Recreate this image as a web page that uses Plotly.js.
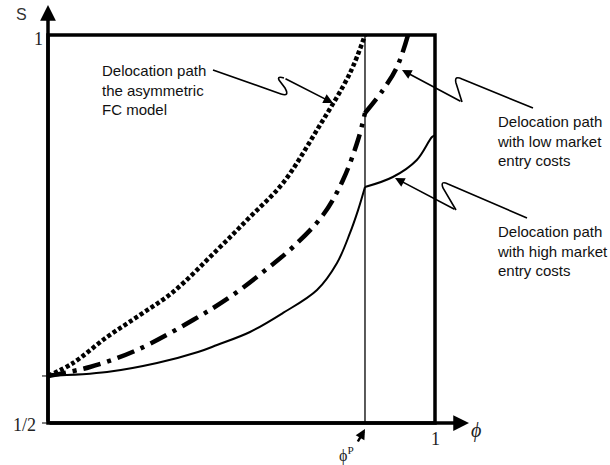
<!DOCTYPE html>
<html>
<head>
<meta charset="utf-8">
<script src="https://cdn.plot.ly/plotly-3.0.1.min.js"></script>
<style>html,body{margin:0;padding:0;background:#fff;}#chart{width:610px;height:465px;}</style>
</head>
<body>
<div id="chart"></div>
<script>
// ---- data (phi on x in [0,1], S on y in [1/2,1]) ----
const phiP = 0.8191;
const dottedX = [0, 0.0646, 0.1525, 0.2377, 0.3230, 0.4367, 0.5220, 0.6072, 0.6951, 0.7804, 0.8191];
const dottedY = [0.5606, 0.5773, 0.6108, 0.6392, 0.6688, 0.7229, 0.7655, 0.8093, 0.8776, 0.9510, 1.0];
const lowCostX1 = [0, 0.1085, 0.2300, 0.3747, 0.4703, 0.5556, 0.6331, 0.7106, 0.7623, 0.8010, 0.8191];
const lowCostY1 = [0.5606, 0.5722, 0.5941, 0.6327, 0.6624, 0.6946, 0.7268, 0.7680, 0.8131, 0.8647, 0.8995];
const lowCostX2 = [0.8191, 0.8656, 0.9018, 0.9302];
const lowCostY2 = [0.8995, 0.9291, 0.9588, 1.0];
const highCostX1 = [0, 0.1525, 0.2817, 0.3876, 0.4367, 0.5220, 0.6072, 0.6951, 0.7468, 0.7804, 0.8010, 0.8191];
const highCostY1 = [0.5606, 0.5657, 0.5773, 0.5915, 0.6005, 0.6173, 0.6418, 0.6714, 0.7062, 0.7449, 0.7740, 0.8041];
const highCostX2 = [0.8191, 0.8910, 0.9530, 0.9922, 1.0];
const highCostY2 = [0.8041, 0.8170, 0.8390, 0.8686, 0.8710];
const yTickLabels = ['1/2', '1'];
const xTickLabels = ['ϕ<sup>P</sup>', '1'];
const labelAsym = 'Delocation path<br>the asymmetric<br>FC model';
const labelLow = 'Delocation path<br>with low market<br>entry costs';
const labelHigh = 'Delocation path<br>with high market<br>entry costs';

// ---- layout helpers (pixel -> data) ----
const X = p => (p - 48) / 387;
const Y = p => 0.5 + (423 - p) / 776;

const traces = [
  {x: dottedX, y: dottedY, mode: 'lines', line: {color: '#000', width: 4.5, dash: '4px,2.5px', shape: 'spline', smoothing: 1}},
  {x: lowCostX1, y: lowCostY1, mode: 'lines', line: {color: '#000', width: 4.5, dash: '18px,7px,4px,7px', shape: 'spline', smoothing: 1}},
  {x: lowCostX2, y: lowCostY2, mode: 'lines', line: {color: '#000', width: 4.5, dash: '18px,7px,4px,7px', shape: 'spline', smoothing: 1}},
  {x: highCostX1, y: highCostY1, mode: 'lines', line: {color: '#000', width: 2, shape: 'spline', smoothing: 1}},
  {x: highCostX2, y: highCostY2, mode: 'lines', line: {color: '#000', width: 2, shape: 'spline', smoothing: 1}}
];

const P = (x, y) => X(x) + ',' + Y(y);
const shapes = [
  {type: 'rect', xref: 'x', yref: 'y', x0: 0, x1: 1, y0: 0.5, y1: 1, line: {color: '#000', width: 3.5}},
  {type: 'line', xref: 'x', yref: 'y', x0: phiP, x1: phiP, y0: 0.5, y1: 1, line: {color: '#000', width: 1.3}},
  {type: 'line', xref: 'x', yref: 'y', x0: X(42), x1: 0, y0: 0.5, y1: 0.5, line: {color: '#000', width: 1}},
  {type: 'line', xref: 'x', yref: 'y', x0: X(42), x1: 0, y0: dottedY[0], y1: dottedY[0], line: {color: '#000', width: 1}},
  {type: 'path', xref: 'x', yref: 'y', line: {color: '#000', width: 1.6},
   path: 'M' + P(213,70) + ' L' + P(281,94) + ' Q' + P(290,97) + ' ' + P(285,88) + ' L' + P(279,80) + ' Q' + P(277,76) + ' ' + P(284,78)},
  {type: 'path', xref: 'x', yref: 'y', line: {color: '#000', width: 1.6},
   path: 'M' + P(533,108) + ' L' + P(462,79) + ' Q' + P(454,75) + ' ' + P(456,83) + ' L' + P(462,102)},
  {type: 'path', xref: 'x', yref: 'y', line: {color: '#000', width: 1.6},
   path: 'M' + P(527,218) + ' L' + P(448,184) + ' Q' + P(440,180) + ' ' + P(443,188) + ' L' + P(456,210)}
];

const serif = 'Liberation Serif, Times New Roman, serif';
const sans = 'Liberation Sans, Arial, sans-serif';
const arrow = (tx, ty, fx, fy, w, s) => ({
  x: X(tx), y: Y(ty), xref: 'x', yref: 'y', ax: fx - tx, ay: fy - ty, text: '',
  showarrow: true, arrowhead: 2, arrowwidth: w, arrowsize: s, arrowcolor: '#000'
});
const annotations = [
  // axes arrows
  {x: 0, y: Y(5), xref: 'x', yref: 'y', axref: 'x', ayref: 'y', ax: 0, ay: 0.5, text: '', showarrow: true, arrowhead: 2, arrowwidth: 3.5, arrowsize: 0.9, arrowcolor: '#000'},
  {x: X(469), y: 0.5, xref: 'x', yref: 'y', axref: 'x', ayref: 'y', ax: 0, ay: 0.5, text: '', showarrow: true, arrowhead: 2, arrowwidth: 3.5, arrowsize: 0.9, arrowcolor: '#000'},
  // axis labels
  {x: X(21), y: Y(14), xref: 'x', yref: 'y', text: 'S', showarrow: false, font: {family: sans, size: 16, color: '#333'}},
  {x: X(476), y: Y(430), xref: 'x', yref: 'y', text: '<i>ϕ</i>', showarrow: false, font: {family: serif, size: 20, color: '#222'}},
  {x: X(38), y: Y(39), xref: 'x', yref: 'y', text: yTickLabels[1], showarrow: false, font: {family: serif, size: 18, color: '#222'}},
  {x: X(24), y: Y(425), xref: 'x', yref: 'y', text: yTickLabels[0], showarrow: false, font: {family: serif, size: 18, color: '#222'}},
  {x: 1, y: Y(439), xref: 'x', yref: 'y', text: xTickLabels[1], showarrow: false, font: {family: serif, size: 18, color: '#222'}},
  {x: X(346), y: Y(454), xref: 'x', yref: 'y', text: xTickLabels[0], showarrow: false, font: {family: serif, size: 16, color: '#222'}},
  arrow(365, 429, 357, 443, 2.5, 0.8),
  // callouts
  {x: X(100), y: Y(90), xref: 'x', yref: 'y', xanchor: 'left', yanchor: 'middle', align: 'left', text: labelAsym, showarrow: false, font: {family: sans, size: 15, color: '#111'}},
  {x: X(495), y: Y(141), xref: 'x', yref: 'y', xanchor: 'left', yanchor: 'middle', align: 'left', text: labelLow, showarrow: false, font: {family: sans, size: 15, color: '#111'}},
  {x: X(495), y: Y(251), xref: 'x', yref: 'y', xanchor: 'left', yanchor: 'middle', align: 'left', text: labelHigh, showarrow: false, font: {family: sans, size: 15, color: '#111'}},
  arrow(333, 103, 284, 78, 1.6, 1.2),
  arrow(402, 70, 462, 102, 1.6, 1.2),
  arrow(395, 178, 456, 210, 1.6, 1.2)
];

const layout = {
  width: 610, height: 465,
  margin: {l: 0, r: 0, t: 0, b: 0},
  paper_bgcolor: '#fff', plot_bgcolor: '#fff',
  showlegend: false,
  xaxis: {range: [X(0), X(610)], visible: false, fixedrange: true},
  yaxis: {range: [Y(465), Y(0)], visible: false, fixedrange: true},
  shapes: shapes,
  annotations: annotations
};

Plotly.newPlot('chart', traces, layout, {staticPlot: true, displayModeBar: false});
</script>
</body>
</html>
